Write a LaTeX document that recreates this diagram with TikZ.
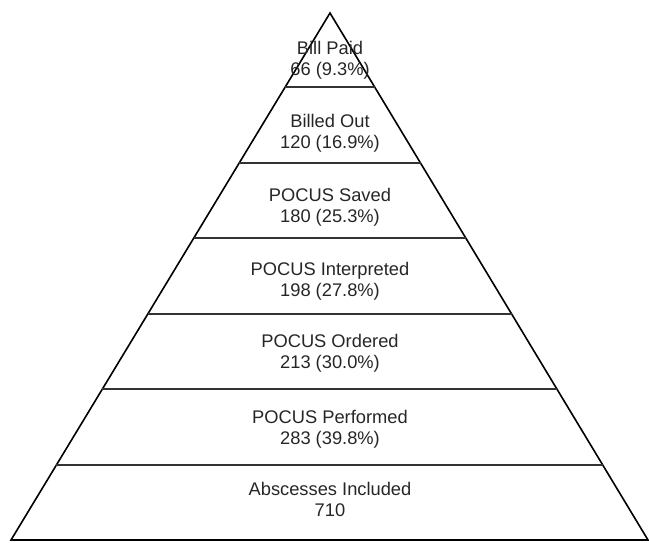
\documentclass[tikz,border=0pt]{standalone}
\usepackage{fontspec}
\setmainfont{Liberation Sans}
\usetikzlibrary{calc}
\begin{document}
\begin{tikzpicture}[x=1pt,y=-1pt,
  outline/.style={line width=1.6pt,black,line join=miter},
  divider/.style={line width=1.2pt,black!80},
  lbl/.style={align=center,inner sep=0pt,font=\fontsize{18.3}{21}\selectfont,text=black!85}]
\useasboundingbox (0,0) rectangle (649,542);
\coordinate (A) at (330,13);
\coordinate (L) at (11,540);
\coordinate (R) at (648,540);
\draw[outline] (A) -- (L) -- (R) -- cycle;
\foreach \y [count=\i] in {87,163,238,314,389,465}{
  \pgfmathsetmacro{\t}{(\y-13)/527}
  \coordinate (l\i) at ($(A)!\t!(L)$);
  \coordinate (r\i) at ($(A)!\t!(R)$);
  \draw[divider] (l\i) -- (r\i);
}
\node[lbl] (n1) at (330,60) {Bill Paid\\66 (9.3\%)};
\node[lbl] (n2) at (330,133) {Billed Out\\120 (16.9\%)};
\node[lbl] (n3) at (330,207.5) {POCUS Saved\\180 (25.3\%)};
\node[lbl] (n4) at (330,281) {POCUS Interpreted\\198 (27.8\%)};
\node[lbl] (n5) at (330,353.5) {POCUS Ordered\\213 (30.0\%)};
\node[lbl] (n6) at (330,429) {POCUS Performed\\283 (39.8\%)};
\node[lbl] (n7) at (330,499) {Abscesses Included\\710};
\end{tikzpicture}
\end{document}
